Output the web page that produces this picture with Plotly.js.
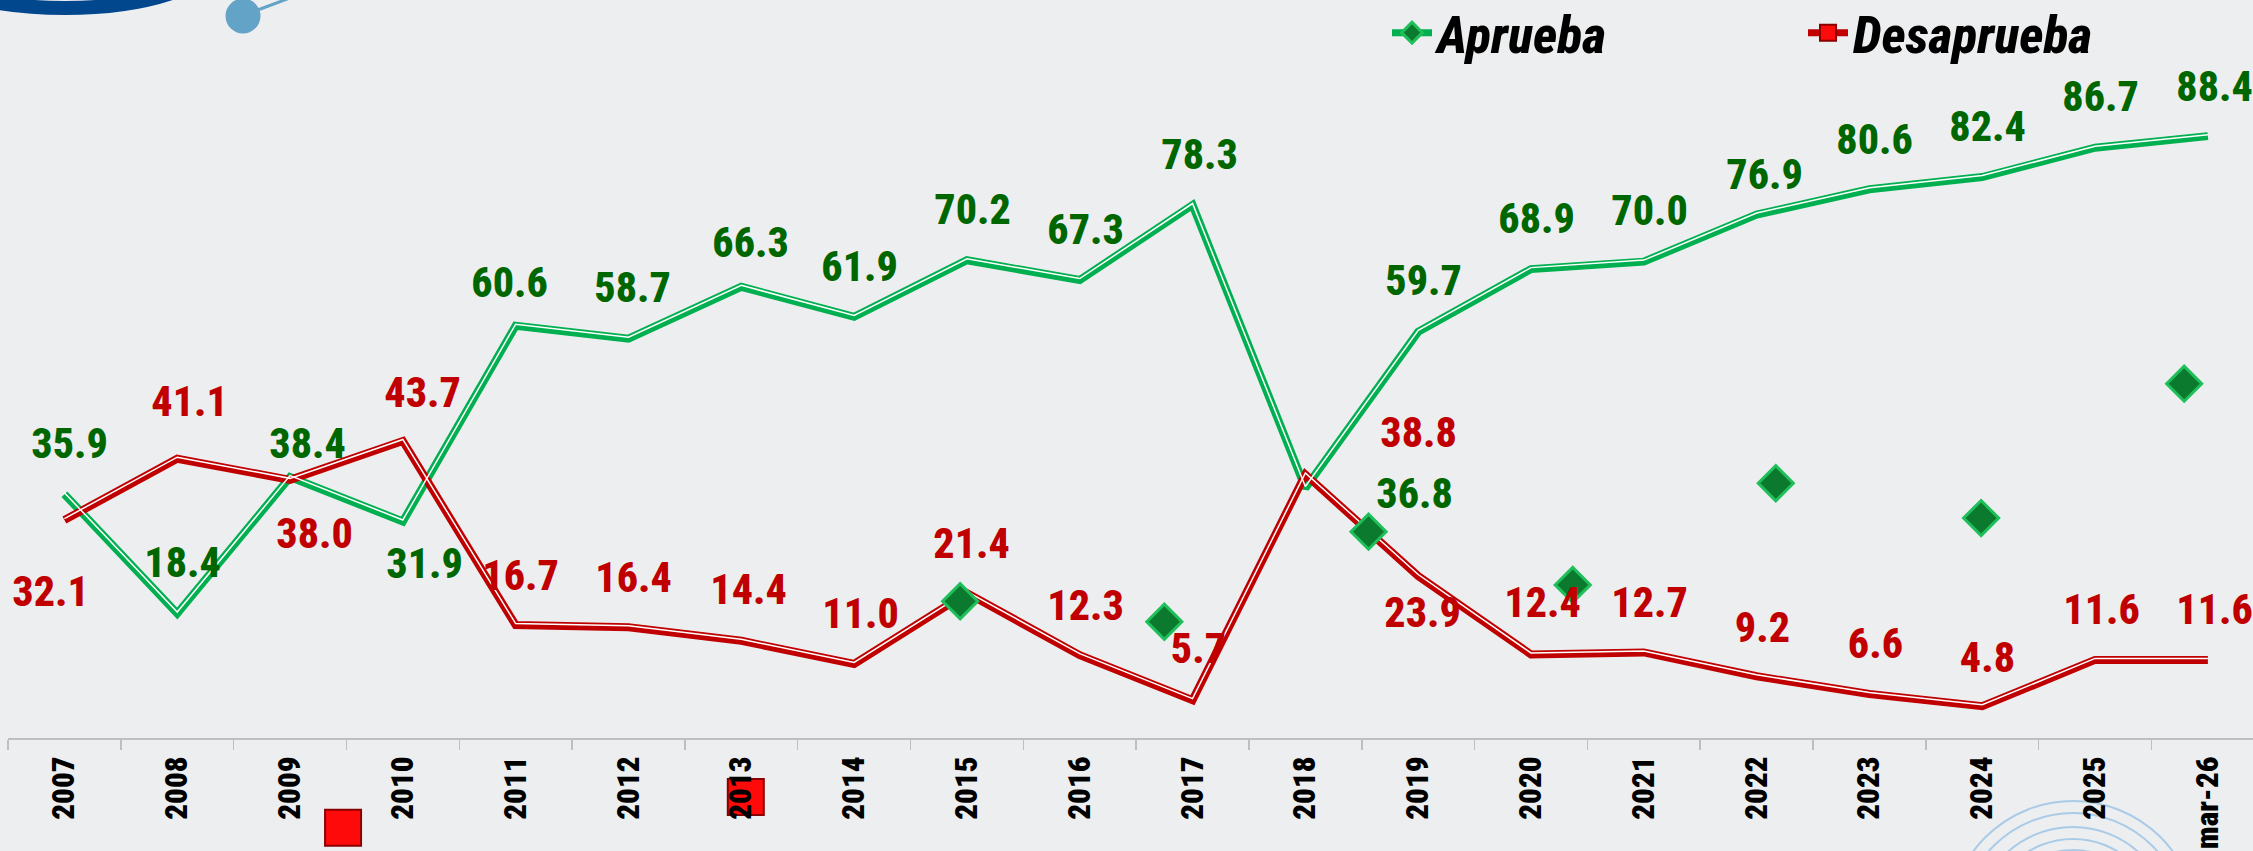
<!DOCTYPE html>
<html>
<head>
<meta charset="utf-8">
<script src="https://cdn.plot.ly/plotly-3.0.1.min.js"></script>
<style>
  html, body { margin: 0; padding: 0; background: #edeef0; }
  #chart { width: 2253px; height: 851px; }
  #chart text { font-stretch: 75%; }
</style>
</head>
<body>
<div id="chart"></div>
<script>
// ---- data ----
const categories = ["2007","2008","2009","2010","2011","2012","2013","2014","2015","2016",
                    "2017","2018","2019","2020","2021","2022","2023","2024","2025","mar-26"];
const aprueba    = [35.9,18.4,38.4,31.9,60.6,58.7,66.3,61.9,70.2,67.3,
                    78.3,36.8,59.7,68.9,70.0,76.9,80.6,82.4,86.7,88.4];
const desaprueba = [32.1,41.1,38.0,43.7,16.7,16.4,14.4,11.0,21.4,12.3,
                    5.7,38.8,23.9,12.4,12.7,9.2,6.6,4.8,11.6,11.6];

// stray marker glyphs seen in the picture
const strayDiamondX = [7.94, 9.75, 11.56, 13.37, 15.17, 16.99, 18.79];
const strayDiamondY = [20.2, 17.2, 30.4, 22.6, 37.5, 32.4, 52.1];
const straySquareX  = [2.47, 4.25, 6.04];
const straySquareY  = [-13.0, -18.6, -8.5];

// ---- label offsets (pixels) ----
const apDx = [5,5,17,22,-6,4,9,5,6,6,7,109,5,6,6,8,5,5,5,7];
const apDy = [51,51,34,-42,43,51,44,50,51,51,51,-5,51,51,51,40,50,51,51,50];
const deDx = [-14,12,24,20,5,5,7,6,5,6,6,113,4,12,6,6,6,5,6,7];
const deDy = [-71,57,-54,48,50,50,51,51,50,50,52,42,-36,52,50,49,51,49,50,50];

const FONT = 'Roboto, "DejaVu Sans Condensed", sans-serif';
const GREEN_LINE = '#00b050', RED_LINE = '#c00000';
const GREEN_TXT = '#006600', RED_TXT = '#c00000';
const idx = categories.map((c,i)=>i);

// interleave nulls so isolated glyphs are never joined by a line
function spread(arr){ const out=[]; arr.forEach((v,i)=>{ if(i) out.push(null); out.push(v); }); return out; }

const traces = [
  {x: categories, y: aprueba, type:'scatter', mode:'lines', showlegend:false, hoverinfo:'skip',
   line:{color:GREEN_LINE, width:8}},
  {x: categories, y: aprueba, yaxis:'y3', type:'scatter', mode:'lines', showlegend:false, hoverinfo:'skip',
   line:{color:'#ffffff', width:1.5}},
  {x: categories, y: desaprueba, type:'scatter', mode:'lines', showlegend:false, hoverinfo:'skip',
   line:{color:RED_LINE, width:8}},
  {x: categories, y: desaprueba, yaxis:'y3', type:'scatter', mode:'lines', showlegend:false, hoverinfo:'skip',
   line:{color:'#ffffff', width:1.5}},
  {x: spread(strayDiamondX), y: spread(strayDiamondY), xaxis:'x2', yaxis:'y', type:'scatter',
   mode:'lines+markers', name:'Aprueba', connectgaps:false, cliponaxis:false,
   line:{color:GREEN_LINE, width:7},
   marker:{symbol:'diamond', size:27, color:'#0b7a2e', line:{color:'#1fbf5a', width:3}}},
  {x: spread(straySquareX), y: spread(straySquareY), xaxis:'x2', yaxis:'y', type:'scatter',
   mode:'lines+markers', name:'Desaprueba', connectgaps:false, cliponaxis:false,
   line:{color:RED_LINE, width:7},
   marker:{symbol:'square', size:36, color:'#ff0a0a', line:{color:'#8a0000', width:2}}}
];

const annotations = [];
idx.forEach(i=>{
  annotations.push({x:i, y:aprueba[i], xref:'x2', yref:'y', text:aprueba[i].toFixed(1), showarrow:false,
    xshift:apDx[i], yshift:apDy[i], font:{family:FONT, size:42, color:GREEN_TXT, weight:800}});
  annotations.push({x:i, y:desaprueba[i], xref:'x2', yref:'y', text:desaprueba[i].toFixed(1), showarrow:false,
    xshift:deDx[i], yshift:deDy[i], font:{family:FONT, size:42, color:RED_TXT, weight:800}});
});

// decorative background shapes (pixel-sized, anchored to the paper top-left)
// coordinates given as image pixels (y downwards) and converted to pixel offsets
function pxShape(type, x0, x1, y0, y1, extra){
  return Object.assign({type, xref:'paper', yref:'paper', xsizemode:'pixel', ysizemode:'pixel',
    xanchor:0, yanchor:1, x0:x0-8, x1:x1-8, y0:-y0, y1:-y1, layer:'below'}, extra);
}
const shapes = [
  pxShape('circle', 65-153, 65+153, -45-53, -45+53, {line:{color:'#00478d', width:14}}),
  pxShape('circle', 243-17.5, 243+17.5, 16-17.5, 16+17.5, {fillcolor:'#62a3c7', line:{width:0}}),
  pxShape('line', 255, 330, 11, -17, {line:{color:'#62a3c7', width:3}})
];
[124,112,98,86,75].forEach(r=>{
  shapes.push(pxShape('circle', 2073-r, 2073+r, 925-r, 925+r, {line:{color:'#a9cbe8', width:2}}));
});

const YMIN = -16.42, YMAX = 108.36, LIFT = 0.22;
const layout = {
  width:2253, height:851,
  margin:{l:8, r:0, t:0, b:0, autoexpand:false},
  paper_bgcolor:'#edeef0', plot_bgcolor:'#edeef0',
  xaxis:{type:'category', range:[-0.5,19.4], showgrid:false, zeroline:false,
    anchor:'free', position:112/851, automargin:false,
    showline:true, linecolor:'#bfbfbf', linewidth:2,
    ticks:'outside', ticklen:10, tickcolor:'#bfbfbf', tickwidth:1.5, tickson:'boundaries',
    tickangle:-90, ticklabelstandoff:4,
    tickfont:{family:FONT, size:31, color:'#000000', weight:900}},
  xaxis2:{overlaying:'x', range:[-0.5,19.4], visible:false, type:'linear'},
  yaxis:{range:[YMIN,YMAX], visible:false, showgrid:false, zeroline:false},
  yaxis3:{overlaying:'y', range:[YMIN-LIFT,YMAX-LIFT], visible:false, showgrid:false, zeroline:false},
  showlegend:true,
  legend:{orientation:'h', x:(1387-8)/2245, xanchor:'left', y:1.009, yanchor:'top',
    itemwidth:40, bgcolor:'rgba(0,0,0,0)', entrywidth:361, entrywidthmode:'pixels',
    font:{family:FONT, size:52, color:'#000000', weight:800, style:'italic'}},
  annotations, shapes
};

Plotly.newPlot('chart', traces, layout, {displayModeBar:false, staticPlot:true});
</script>
</body>
</html>
